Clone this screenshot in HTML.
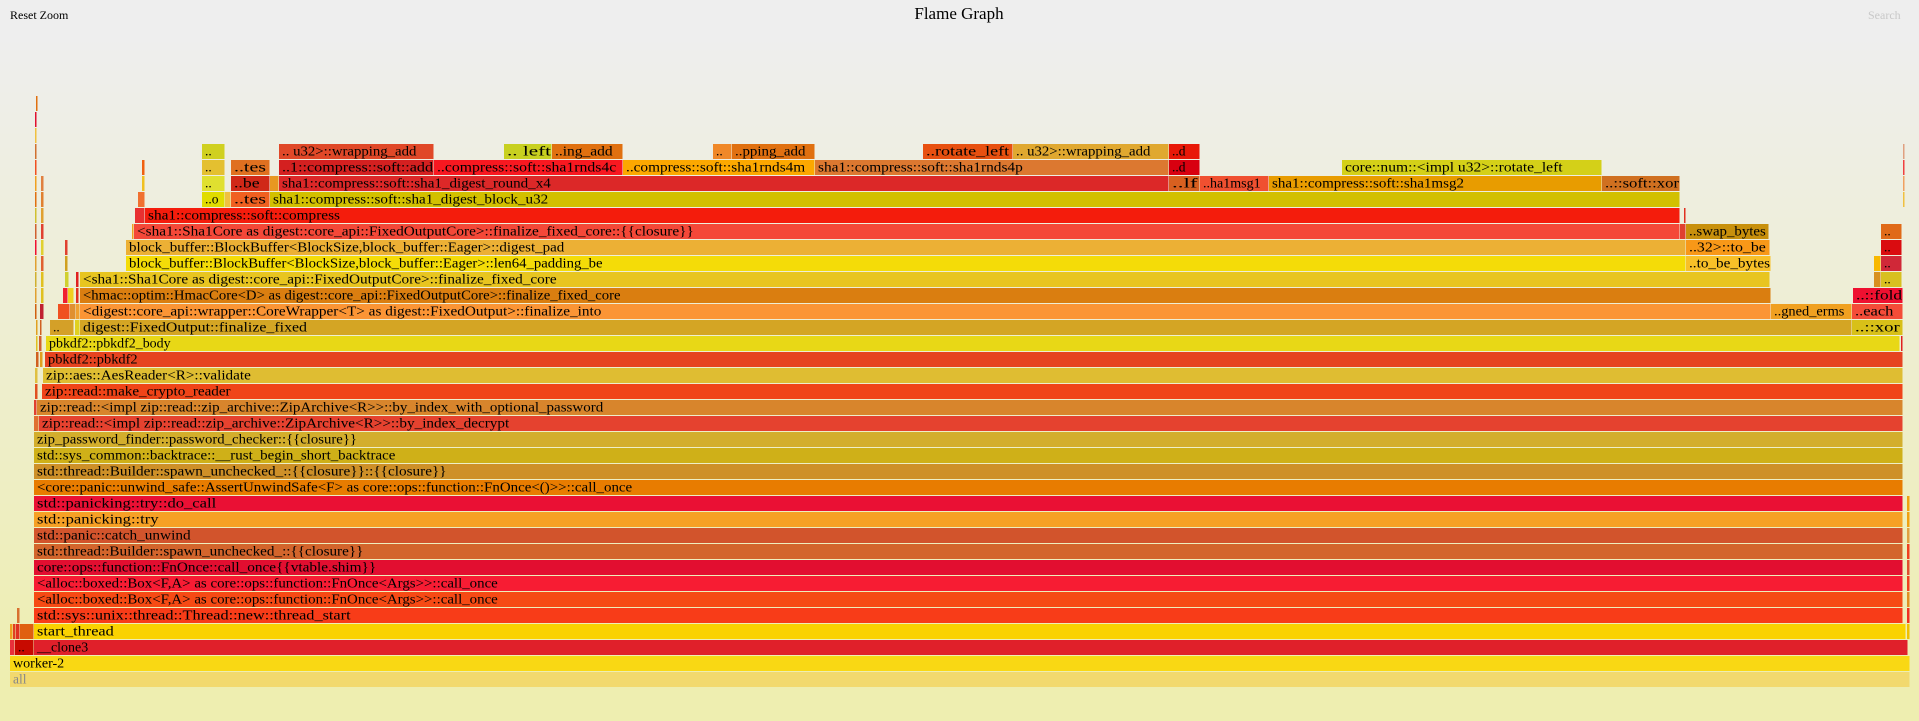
<!DOCTYPE html>
<html><head><meta charset="utf-8"><style>
html,body{margin:0;padding:0;width:1919px;height:721px;overflow:hidden}
svg{display:block}
text{font-family:"Liberation Serif",serif;}
</style></head><body>
<svg id="s" width="1919" height="721" xmlns="http://www.w3.org/2000/svg">
<defs><linearGradient id="bg" x1="0" y1="0" x2="0" y2="1"><stop offset="5%" stop-color="#eeeeee"/><stop offset="95%" stop-color="#eeeeb0"/></linearGradient></defs>
<rect x="0" y="0" width="1919" height="721" fill="url(#bg)"/>
<text x="959" y="19" text-anchor="middle" font-size="17">Flame Graph</text>
<text x="10" y="19" font-size="12">Reset Zoom</text>
<text x="1868" y="19" font-size="12" fill="#c8c8c8">Search</text>
<g id="g"></g>
</svg>
<script>
var F=[
[0,10,1910,"#f2d96e","all","#888"],
[1,10,1910,"#f9d814","worker-2"],
[2,10,15,"#e8303a",""],[2,15,34,"#c80a00",".."],[2,34,1908,"#e0202a","__clone3"],
[3,10,13,"#f0a020",""],[3,13,16,"#e04020",""],[3,16,20,"#e03020",""],[3,20,34,"#e06010",""],[3,34,1906,"#fad200","start_thread"],[3,1907,1910,"#f0c000",""],
[4,17,20,"#d87030",""],[4,34,1903,"#f83c18","std::sys::unix::thread::Thread::new::thread_start"],[4,1907,1910,"#f03020",""],
[5,34,1903,"#f64a14","<alloc::boxed::Box<F,A> as core::ops::function::FnOnce<Args>>::call_once"],[5,1907,1910,"#e09020",""],
[6,34,1903,"#f71c33","<alloc::boxed::Box<F,A> as core::ops::function::FnOnce<Args>>::call_once"],[6,1907,1910,"#f04020",""],
[7,34,1903,"#e20e30","core::ops::function::FnOnce::call_once{{vtable.shim}}"],[7,1907,1910,"#e05030",""],
[8,34,1903,"#d3652c","std::thread::Builder::spawn_unchecked_::{{closure}}"],[8,1907,1910,"#f04020",""],
[9,34,1903,"#d2542c","std::panic::catch_unwind"],[9,1907,1910,"#e0a040",""],
[10,34,1903,"#f6a025","std::panicking::try"],[10,1907,1910,"#f0a010",""],
[11,34,1903,"#ea1034","std::panicking::try::do_call"],[11,1907,1910,"#f0a010",""],
[12,34,1903,"#e87c00","<core::panic::unwind_safe::AssertUnwindSafe<F> as core::ops::function::FnOnce<()>>::call_once"],
[13,34,1903,"#ce9028","std::thread::Builder::spawn_unchecked_::{{closure}}::{{closure}}"],
[14,34,1903,"#cfb018","std::sys_common::backtrace::__rust_begin_short_backtrace"],
[15,34,1903,"#d3ae2c","zip_password_finder::password_checker::{{closure}}"],
[16,34,39,"#e07030",""],[16,39,1903,"#e5422f","zip::read::<impl zip::read::zip_archive::ZipArchive<R>>::by_index_decrypt"],
[17,34,37,"#e04030",""],[17,37,1903,"#d8852c","zip::read::<impl zip::read::zip_archive::ZipArchive<R>>::by_index_with_optional_password"],
[18,35,38,"#e05020",""],[18,42,1903,"#f04418","zip::read::make_crypto_reader"],
[19,35,38,"#e0c040",""],[19,43,1903,"#dfbd32","zip::aes::AesReader<R>::validate"],
[20,36,39,"#d06020",""],[20,40,43,"#e0a020",""],[20,45,1903,"#e64320","pbkdf2::pbkdf2"],
[21,36,38,"#e0c020",""],[21,39,42,"#d06030",""],[21,46,1900,"#e8d816","pbkdf2::pbkdf2_body"],[21,1901,1903,"#e02020",""],
[22,36,38,"#e0a020",""],[22,40,42,"#d06020",""],[22,50,74,"#d4a028",".."],[22,75,80,"#e0d020",""],[22,80,1852,"#d4a524","digest::FixedOutput::finalize_fixed"],[22,1852,1903,"#d8c018","..::xor"],
[23,35,37,"#d06010",""],[23,40,44,"#c02030",""],[23,58,70,"#f05020",""],[23,70,76,"#e09030",""],[23,76,80,"#f0a030",""],[23,80,1771,"#fb9535","<digest::core_api::wrapper::CoreWrapper<T> as digest::FixedOutput>::finalize_into"],[23,1771,1852,"#f0a020","..gned_erms"],[23,1852,1903,"#f44c38","..each"],
[24,35,37,"#e0a030",""],[24,41,44,"#e0c020",""],[24,63,68,"#f02030",""],[24,68,74,"#f0d020",""],[24,76,79,"#e03020",""],[24,80,1771,"#da7e10","<hmac::optim::HmacCore<D> as digest::core_api::FixedOutputCore>::finalize_fixed_core"],[24,1853,1903,"#ee1030","..::fold"],
[25,35,37,"#d0b030",""],[25,41,44,"#e0c020",""],[25,65,69,"#d0d030",""],[25,76,79,"#e02020",""],[25,80,1770,"#e8c520","<sha1::Sha1Core as digest::core_api::FixedOutputCore>::finalize_fixed_core"],[25,1874,1881,"#d89020",""],[25,1881,1902,"#d8c020",".."],
[26,35,37,"#e0a030",""],[26,41,44,"#e06030",""],[26,65,68,"#d0a020",""],[26,126,1686,"#f4dc08","block_buffer::BlockBuffer<BlockSize,block_buffer::Eager>::len64_padding_be"],[26,1686,1771,"#f8c028","..to_be_bytes"],[26,1874,1881,"#f8b800",""],[26,1881,1902,"#d02838",".."],
[27,35,37,"#f01030",""],[27,41,44,"#e0d030",""],[27,65,68,"#e04030",""],[27,126,1686,"#ecb035","block_buffer::BlockBuffer<BlockSize,block_buffer::Eager>::digest_pad"],[27,1686,1770,"#f89818","..32>::to_be"],[27,1881,1902,"#da0c10",".."],
[28,35,37,"#d06030",""],[28,41,44,"#e04030",""],[28,132,134,"#f0a020",""],[28,134,1680,"#f44838","<sha1::Sha1Core as digest::core_api::FixedOutputCore>::finalize_fixed_core::{{closure}}"],[28,1680,1686,"#e04030",""],[28,1686,1769,"#c8900c","..swap_bytes"],[28,1881,1902,"#e06a18",".."],
[29,35,37,"#d0c030",""],[29,41,44,"#e0a030",""],[29,135,145,"#e83030",""],[29,145,1680,"#f41c0c","sha1::compress::soft::compress"],[29,1684,1686,"#e03020",""],
[30,35,37,"#e07010",""],[30,41,44,"#e08030",""],[30,138,145,"#f07030",""],[30,202,225,"#e0dc00","..o"],[30,225,231,"#f0c040",""],[30,231,270,"#f06020","..tes"],[30,270,1680,"#d2c000","sha1::compress::soft::sha1_digest_block_u32"],[30,1903,1905,"#f0c040",""],
[31,35,37,"#f0a020",""],[31,41,44,"#e08040",""],[31,142,145,"#f0c020",""],[31,202,225,"#e0e030",".."],[31,231,270,"#d02818","..be"],[31,270,279,"#e89820",""],[31,279,1169,"#dc2828","sha1::compress::soft::sha1_digest_round_x4"],[31,1169,1200,"#d86020","..lf"],[31,1200,1269,"#f05030","..ha1msg1"],[31,1269,1602,"#e89c00","sha1::compress::soft::sha1msg2"],[31,1602,1680,"#d07020","..::soft::xor"],[31,1903,1905,"#f0a060",""],
[32,35,37,"#f05020",""],[32,142,145,"#f06010",""],[32,202,225,"#e4c030",".."],[32,231,270,"#e07020","..tes"],[32,279,434,"#d42020","..1::compress::soft::add"],[32,434,623,"#f81820","..compress::soft::sha1rnds4c"],[32,623,815,"#fca800","..compress::soft::sha1rnds4m"],[32,815,1169,"#dc7830","sha1::compress::soft::sha1rnds4p"],[32,1169,1200,"#d80010","..d"],[32,1342,1602,"#d4d018","core::num::<impl u32>::rotate_left"],[32,1903,1905,"#f04040",""],
[33,35,37,"#d07030",""],[33,202,225,"#d0d020",".."],[33,279,434,"#e04828",".. u32>::wrapping_add"],[33,504,552,"#c8d020",".. left"],[33,552,623,"#e07010","..ing_add"],[33,713,732,"#f08828",".."],[33,732,815,"#e07010","..pping_add"],[33,923,1013,"#e85010","..rotate_left"],[33,1013,1169,"#e0a830",".. u32>::wrapping_add"],[33,1169,1200,"#e81808","..d"],[33,1903,1905,"#e0a080",""],
[34,35,37,"#f0c040",""],[35,35,37,"#e01030",""],[36,36,38,"#e07010",""]
];
var g=document.getElementById("g"),ns="http://www.w3.org/2000/svg";
F.forEach(function(f){
 var y=672-16*f[0];
 var r=document.createElementNS(ns,"rect");
 r.setAttribute("x",f[1]);r.setAttribute("y",y);r.setAttribute("width",Math.max(1,f[2]-f[1]-0.5));r.setAttribute("height",15);r.setAttribute("fill",f[3]);
 g.appendChild(r);
 if(f[4]){
  var t=document.createElementNS(ns,"text");
  t.setAttribute("x",f[1]+3);t.setAttribute("y",y+11.5);t.setAttribute("font-size","13.5");
  if(f[5])t.setAttribute("fill",f[5]);
  t.textContent=f[4];
  var L=f[4].length*6.4;
  if(L>f[2]-f[1]-4)L=f[2]-f[1]-4;
  if(f[4].length>3){t.setAttribute("textLength",L);t.setAttribute("lengthAdjust","spacingAndGlyphs");}
  g.appendChild(t);
 }
});
</script>
</body></html>
